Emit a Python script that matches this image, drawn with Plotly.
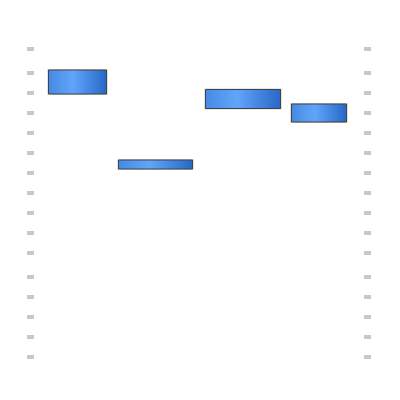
import plotly.graph_objects as go

# Data (x in plot units, y in value units)
bar_names = ["A", "B", "C", "D"]
x_centers = [42.5, 120.5, 208.0, 284.0]
x_widths = [58.0, 74.0, 75.0, 55.0]
y_low = [13.55, 9.8, 12.825, 12.15]
y_high = [14.75, 10.25, 13.775, 13.05]
y_tickvals = [0.4, 1.4, 2.4, 3.4, 4.4, 5.6, 6.6, 7.6, 8.6, 9.6, 10.6, 11.6, 12.6, 13.6, 14.6, 15.8]

heights = [h - l for h, l in zip(y_high, y_low)]

fig = go.Figure()

# light halo behind each bar
fig.add_trace(go.Bar(
    x=x_centers, y=heights, base=y_low, width=x_widths,
    marker=dict(color="rgba(0,0,0,0)", line=dict(color="#d8d0bf", width=2.2)),
    hoverinfo="skip", showlegend=False))

# horizontal gradient built from overlapping slices
K = 24
dark = (40, 104, 200)
light = (98, 166, 250)
peak = 0.42
for k in range(K):
    t = (k + 0.5) / K
    if t <= peak:
        f = 0.55 + 0.45 * (t / peak)
    else:
        f = 1.0 - (t - peak) / (1 - peak)
    c = tuple(int(d + (l - d) * f) for d, l in zip(dark, light))
    lefts = [xc - w / 2 + k * w / K for xc, w in zip(x_centers, x_widths)]
    rights = [xc + w / 2 for xc, w in zip(x_centers, x_widths)]
    xs = [(a + b) / 2 for a, b in zip(lefts, rights)]
    ws = [b - a for a, b in zip(lefts, rights)]
    fig.add_trace(go.Bar(
        x=xs, y=heights, base=y_low, width=ws,
        marker=dict(color="rgb(%d,%d,%d)" % c, line=dict(width=0)),
        hoverinfo="skip", showlegend=False))

# outline
fig.add_trace(go.Bar(
    x=x_centers, y=heights, base=y_low, width=x_widths, name="",
    marker=dict(color="rgba(0,0,0,0)", line=dict(color="#3c4652", width=1)),
    showlegend=False))

fig.update_layout(
    barmode="overlay",
    width=400, height=400,
    margin=dict(l=35, r=37, t=40, b=35),
    paper_bgcolor="white", plot_bgcolor="white",
    showlegend=False,
    xaxis=dict(range=[0, 328], showgrid=False, zeroline=False, showline=False,
               showticklabels=False, ticks=""),
    yaxis=dict(range=[0, 16.25], showgrid=False, zeroline=False, showline=False,
               showticklabels=False, tickmode="array", tickvals=y_tickvals,
               ticks="outside", ticklen=7, tickwidth=4, tickcolor="#c8c8c8",
               mirror="ticks"),
)

fig.write_html("out.html")
